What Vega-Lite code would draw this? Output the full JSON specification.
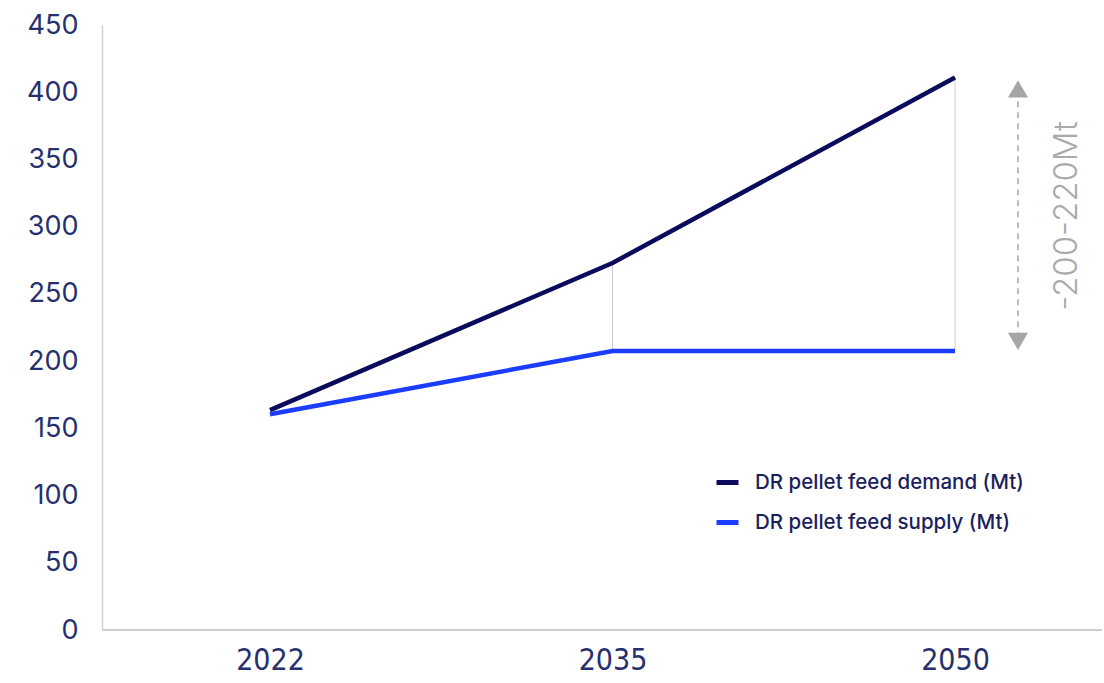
{
  "$schema": "https://vega.github.io/schema/vega-lite/v6.json",
  "width": 1000,
  "height": 605,
  "autosize": {"type": "none"},
  "padding": {"left": 102, "top": 25, "right": 2, "bottom": 53},
  "background": "white",
  "config": {
    "view": {"stroke": null},
    "font": "Inter"
  },
  "datasets": {
    "main": [
      {"series": "demand", "year": "2022", "value": 163.5},
      {"series": "demand", "year": "2035", "value": 273},
      {"series": "demand", "year": "2050", "value": 411},
      {"series": "supply", "year": "2022", "value": 160.5},
      {"series": "supply", "year": "2035", "value": 207.5},
      {"series": "supply", "year": "2050", "value": 207.5}
    ],
    "gap": [
      {"year": "2050", "lo": 217, "hi": 400, "top": 402.5, "bottom": 214.7, "mid": 308, "label": "-200-220Mt"}
    ]
  },
  "layer": [
    {
      "data": {"name": "main"},
      "mark": {"type": "rule", "color": "#cfcfcf", "strokeWidth": 1.5},
      "encoding": {
        "y": {"datum": 0, "type": "quantitative", "scale": {"domain": [0, 450]}}
      }
    },
    {
      "data": {"name": "main"},
      "transform": [
        {"pivot": "series", "value": "value", "groupby": ["year"]},
        {"filter": "datum.year != '2022'"}
      ],
      "mark": {"type": "rule", "color": "#cccccc", "strokeWidth": 1},
      "encoding": {
        "x": {"field": "year", "type": "ordinal", "scale": {"type": "point", "range": [168, 853], "padding": 0}},
        "y": {"field": "supply", "type": "quantitative"},
        "y2": {"field": "demand"}
      }
    },
    {
      "data": {"name": "main"},
      "mark": {"type": "line", "strokeWidth": 4.5},
      "encoding": {
        "x": {
          "field": "year", "type": "ordinal",
          "scale": {"type": "point", "range": [168, 853], "padding": 0},
          "axis": {
            "title": null, "domain": false, "ticks": false, "grid": false,
            "labelAngle": 0, "labelAlign": "center", "labelFont": "DejaVu Sans Condensed", "labelFontSize": 30,
            "labelColor": "#27306e", "labelPadding": 30
          }
        },
        "y": {
          "field": "value", "type": "quantitative",
          "scale": {"domain": [0, 450]},
          "axis": {
            "title": null, "values": [0, 50, 100, 150, 200, 250, 300, 350, 400, 450],
            "ticks": false, "grid": false, "domainColor": "#d0d0d0", "domainWidth": 1.5,
            "labelFontSize": 27, "labelColor": "#27306e", "labelPadding": 24
          }
        },
        "color": {
          "field": "series", "type": "nominal",
          "scale": {"domain": ["demand", "supply"], "range": ["#0b0b5c", "#1a3dff"]},
          "legend": {
            "title": null, "orient": "none", "legendX": 612, "legendY": 444,
            "symbolType": "stroke", "symbolSize": 484, "symbolStrokeWidth": 5,
            "labelFontSize": 20.5, "labelFontWeight": 500, "labelLimit": 500,
            "labelColor": "#1b1f5e", "labelOffset": 14, "rowPadding": 16,
            "labelExpr": "datum.label == 'demand' ? 'DR pellet feed demand (Mt)' : 'DR pellet feed supply (Mt)'"
          }
        }
      }
    },
    {
      "data": {"name": "gap"},
      "mark": {"type": "rule", "color": "#a6a6a6", "strokeWidth": 1.5, "strokeDash": [6, 5], "xOffset": 63},
      "encoding": {
        "x": {"field": "year", "type": "ordinal"},
        "y": {"field": "lo", "type": "quantitative"},
        "y2": {"field": "hi"}
      }
    },
    {
      "data": {"name": "gap"},
      "mark": {"type": "point", "shape": "triangle-up", "filled": true, "color": "#a6a6a6", "size": 400, "opacity": 1, "xOffset": 63},
      "encoding": {
        "x": {"field": "year", "type": "ordinal"},
        "y": {"field": "top", "type": "quantitative"}
      }
    },
    {
      "data": {"name": "gap"},
      "mark": {"type": "point", "shape": "triangle-down", "filled": true, "color": "#a6a6a6", "size": 400, "opacity": 1, "xOffset": 63},
      "encoding": {
        "x": {"field": "year", "type": "ordinal"},
        "y": {"field": "bottom", "type": "quantitative"}
      }
    },
    {
      "data": {"name": "gap"},
      "mark": {"type": "text", "angle": 270, "color": "#aaaaaa", "fontSize": 33, "fontWeight": 300, "font": "Inter", "align": "center", "baseline": "middle", "xOffset": 112},
      "encoding": {
        "x": {"field": "year", "type": "ordinal"},
        "y": {"field": "mid", "type": "quantitative"},
        "text": {"field": "label"}
      }
    }
  ]
}
